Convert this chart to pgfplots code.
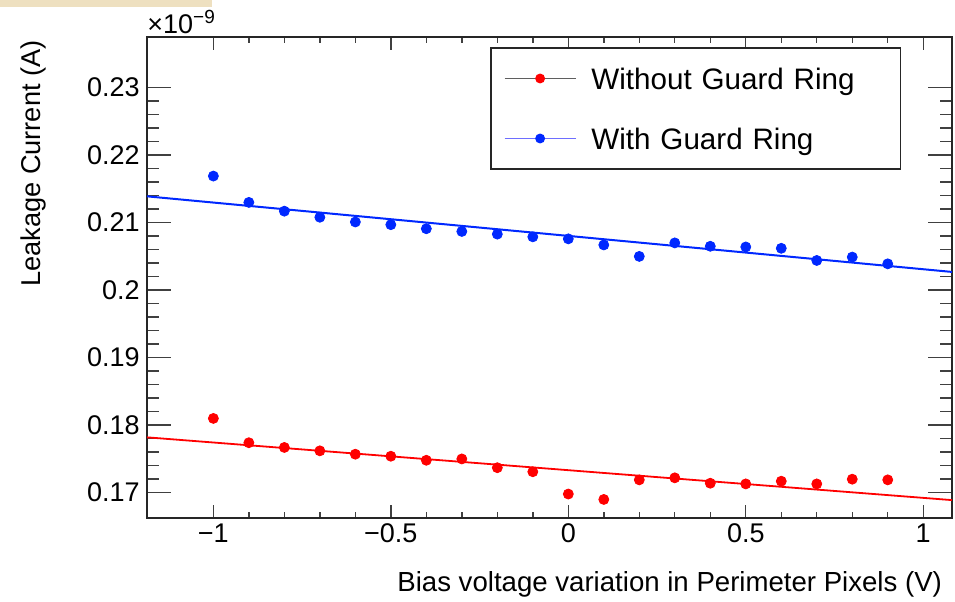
\documentclass[border=0pt]{standalone}
\usepackage{pgfplots}
\pgfplotsset{compat=1.18}
\usepackage{fontspec}
\setmainfont{Liberation Sans}
\definecolor{rootred}{RGB}{255,0,0}
\definecolor{rootblue}{RGB}{0,40,255}
\definecolor{lgblue}{RGB}{110,110,255}
\definecolor{lggray}{RGB}{95,95,95}
\definecolor{tanstrip}{RGB}{238,224,192}

\pgfplotstableread{
x y
-1 0.1810
-0.9 0.1774
-0.8 0.1767
-0.7 0.1762
-0.6 0.1757
-0.5 0.1754
-0.4 0.1748
-0.3 0.1750
-0.2 0.1737
-0.1 0.1731
0 0.1698
0.1 0.1690
0.2 0.1719
0.3 0.1722
0.4 0.1714
0.5 0.1713
0.6 0.1717
0.7 0.1713
0.8 0.1720
0.9 0.1719
}\without

\pgfplotstableread{
x y
-1 0.2169
-0.9 0.2130
-0.8 0.2117
-0.7 0.2108
-0.6 0.2101
-0.5 0.2097
-0.4 0.2091
-0.3 0.2087
-0.2 0.2083
-0.1 0.2079
0 0.2076
0.1 0.2067
0.2 0.2050
0.3 0.2070
0.4 0.2065
0.5 0.2064
0.6 0.2062
0.7 0.2044
0.8 0.2049
0.9 0.2039
}\withring

\begin{document}
\begin{tikzpicture}
\useasboundingbox (0,0) rectangle (477.5pt,300.5pt);
\fill[tanstrip] (0,297pt) rectangle (106pt,300.5pt);
\begin{axis}[
  at={(73.5pt,41.5pt)}, anchor=south west,
  scale only axis, width=402.5pt, height=240.5pt,
  xmin=-1.187, xmax=1.081, ymin=0.16625, ymax=0.2375,
  xtick={-1,-0.5,0,0.5,1},
  xticklabels={−1,−0.5,0,0.5,1},
  ytick={0.17,0.18,0.19,0.2,0.21,0.22,0.23},
  yticklabels={0.17,0.18,0.19,0.2,0.21,0.22,0.23},
  minor x tick num=4, minor y tick num=4,
  tick align=inside, tick pos=both,
  xtick style={/pgfplots/major tick length=6.5pt,/pgfplots/minor tick length=3.2pt},
  ytick style={/pgfplots/major tick length=12pt,/pgfplots/minor tick length=6.2pt},
  every tick/.append style={black!75, line width=0.7pt},
  axis line style={black!85, line width=1pt},
  /pgf/number format/assume math mode=true,
  tick label style={font=\fontsize{13.5}{16}\selectfont},
  yticklabel style={inner sep=0pt, xshift=-3.5pt},
  xticklabel style={inner sep=0pt, yshift=-2.8pt},
  every axis x label/.style={at={(rel axis cs:0.9963,-0.1538)}, anchor=base east, font=\fontsize{13.8}{16}\selectfont},
  every axis y label/.style={at={(rel axis cs:-0.1416,0.9938)}, anchor=east, rotate=90, inner sep=0pt, font=\fontsize{13.6}{16}\selectfont},
  xlabel={Bias voltage variation in Perimeter Pixels (V)},
  ylabel={Leakage Current (A)},
  legend cell align=left,
  legend style={at={(rel axis cs:0.426,0.979)}, anchor=north west,
    draw=black!85, line width=0.9pt,
    font=\fontsize{14.8}{18}\selectfont,
    inner xsep=6.5pt, inner ysep=8pt, row sep=15.5pt, column sep=7.5pt,
    nodes={inner sep=0pt, text height=12.5pt, text depth=2pt},
    /tikz/every even column/.append style={text width=148pt}},
  clip=false,
]
\addplot[rootred, line width=0.9pt, forget plot] coordinates {(-1.187,0.1782) (1.081,0.1689)};
\addplot[rootblue, line width=1pt, forget plot] coordinates {(-1.187,0.2139) (1.081,0.2027)};

\addplot[only marks, mark=*, mark size=2.5pt, color=rootred, forget plot] table[x=x,y=y] {\without};
\addplot[only marks, mark=*, mark size=2.5pt, color=rootblue, forget plot] table[x=x,y=y] {\withring};

\addlegendimage{legend image code/.code={%
  \draw[lggray, line width=0.8pt] (0pt,0pt) -- (15pt,0pt);
  \draw[lggray, line width=0.8pt] (20.5pt,0pt) -- (35.5pt,0pt);
  \draw[lggray, line width=0.8pt] (15pt,0pt) -- (20.5pt,0pt);
  \fill[rootred] (17.75pt,0pt) circle (2pt);}}
\addlegendentry{Without Guard Ring}
\addlegendimage{legend image code/.code={%
  \draw[lgblue, line width=0.8pt] (0pt,0pt) -- (35.5pt,0pt);
  \fill[rootblue] (17.75pt,0pt) circle (2pt);}}
\addlegendentry{With Guard Ring}

\node[anchor=base west, inner sep=0pt, font=\fontsize{13.5}{16}\selectfont] at (rel axis cs:0,1.0083) {×10\raisebox{4.7pt}{\fontsize{9.5}{11}\selectfont −9}};
\end{axis}
\end{tikzpicture}
\end{document}
